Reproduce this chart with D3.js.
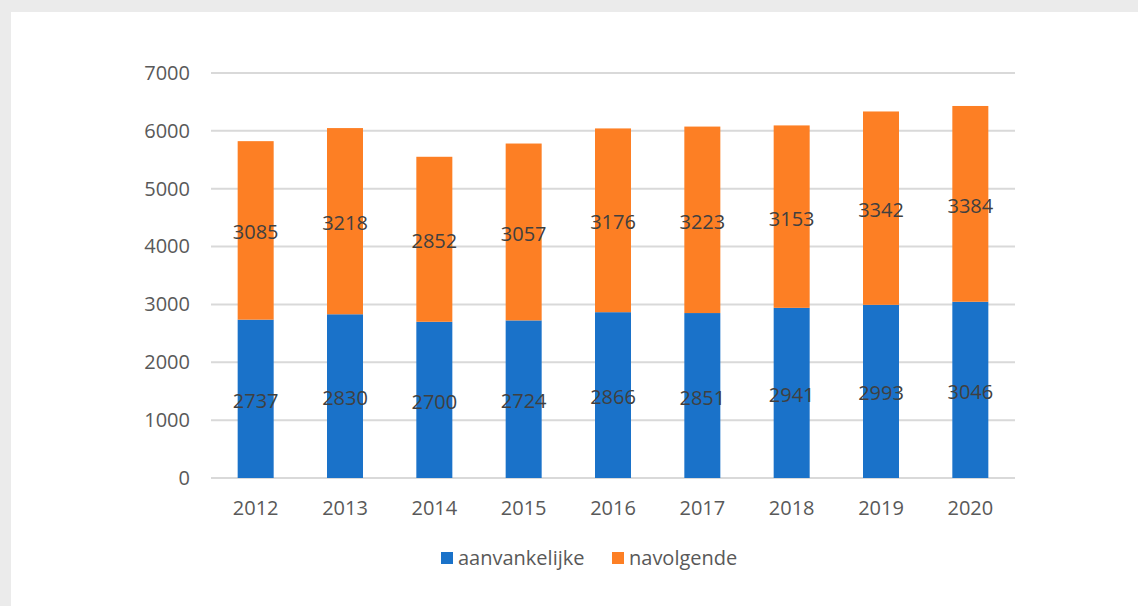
<!DOCTYPE html>
<html>
<head>
<meta charset="utf-8">
<script src="https://cdn.jsdelivr.net/npm/d3@7"></script>
<style>
  html, body { margin: 0; padding: 0; background: #ebebeb; }
  svg { display: block; }
</style>
</head>
<body>
<svg id="chart" width="1138" height="606"></svg>
<script>
const categories = ["2012", "2013", "2014", "2015", "2016", "2017", "2018", "2019", "2020"];
const aanvankelijke = [2737, 2830, 2700, 2724, 2866, 2851, 2941, 2993, 3046];
const navolgende = [3085, 3218, 2852, 3057, 3176, 3223, 3153, 3342, 3384];
const seriesNames = ["aanvankelijke", "navolgende"];
const yTicks = [0, 1000, 2000, 3000, 4000, 5000, 6000, 7000];

const colors = { aanvankelijke: "#1a72c9", navolgende: "#fd7f24" };
const font = "'Open Sans', 'Noto Sans', sans-serif";

const svg = d3.select("#chart");
svg.append("rect").attr("x", 11).attr("y", 12).attr("width", 1127).attr("height", 594).attr("fill", "#ffffff");

const x = d3.scaleBand().domain(categories).range([211, 1015]).paddingInner(0.597).paddingOuter(0.2985);
const y = d3.scaleLinear().domain([0, 7000]).range([478, 73]);

// gridlines
svg.append("g").selectAll("line").data(yTicks).join("line")
  .attr("x1", 211).attr("x2", 1015)
  .attr("y1", d => y(d)).attr("y2", d => y(d))
  .attr("stroke", "#d9d9d9").attr("stroke-width", 2);

// y axis labels
const yAxis = d3.axisLeft(y).tickValues(yTicks).tickSize(0).tickPadding(0).tickFormat(d3.format("d"));
const gy = svg.append("g").attr("transform", "translate(190,0)").call(yAxis);
gy.select(".domain").remove();
gy.selectAll("text").attr("font-family", font).attr("font-size", 20).attr("fill", "#595959");

// x axis labels
const xAxis = d3.axisBottom(x).tickSize(0).tickPadding(0);
const gx = svg.append("g").attr("transform", "translate(0,501)").call(xAxis);
gx.select(".domain").remove();
gx.selectAll("text").attr("font-family", font).attr("font-size", 20).attr("fill", "#595959");

const data = categories.map((c, i) => ({ cat: c, aanvankelijke: aanvankelijke[i], navolgende: navolgende[i] }));
const stack = d3.stack().keys(seriesNames)(data);

const layers = svg.append("g").selectAll("g").data(stack).join("g")
  .attr("fill", d => colors[d.key]);
layers.selectAll("rect").data(d => d).join("rect")
  .attr("x", d => x(d.data.cat))
  .attr("width", x.bandwidth())
  .attr("y", d => y(d[1]))
  .attr("height", d => y(d[0]) - y(d[1]));

// data labels
const labels = svg.append("g").selectAll("g").data(stack).join("g");
labels.selectAll("text").data(d => d.map(v => ({ v, key: d.key }))).join("text")
  .attr("x", d => x(d.v.data.cat) + x.bandwidth() / 2)
  .attr("y", d => (y(d.v[0]) + y(d.v[1])) / 2 + 2)
  .attr("dy", "0.35em")
  .attr("text-anchor", "middle")
  .attr("font-family", font).attr("font-size", 20)
  .attr("fill", "#404040")
  .text(d => d.v.data[d.key]);

// legend
const legendItems = [
  { key: "aanvankelijke", sx: 441, tx: 458 },
  { key: "navolgende", sx: 612, tx: 629 }
];
const lg = svg.append("g");
lg.selectAll("rect").data(legendItems).join("rect")
  .attr("x", d => d.sx).attr("y", 552).attr("width", 12).attr("height", 12)
  .attr("fill", d => colors[d.key]);
lg.selectAll("text").data(legendItems).join("text")
  .attr("x", d => d.tx).attr("y", 558).attr("dy", "0.35em")
  .attr("font-family", font).attr("font-size", 20).attr("fill", "#595959")
  .text(d => d.key);
</script>
</body>
</html>
